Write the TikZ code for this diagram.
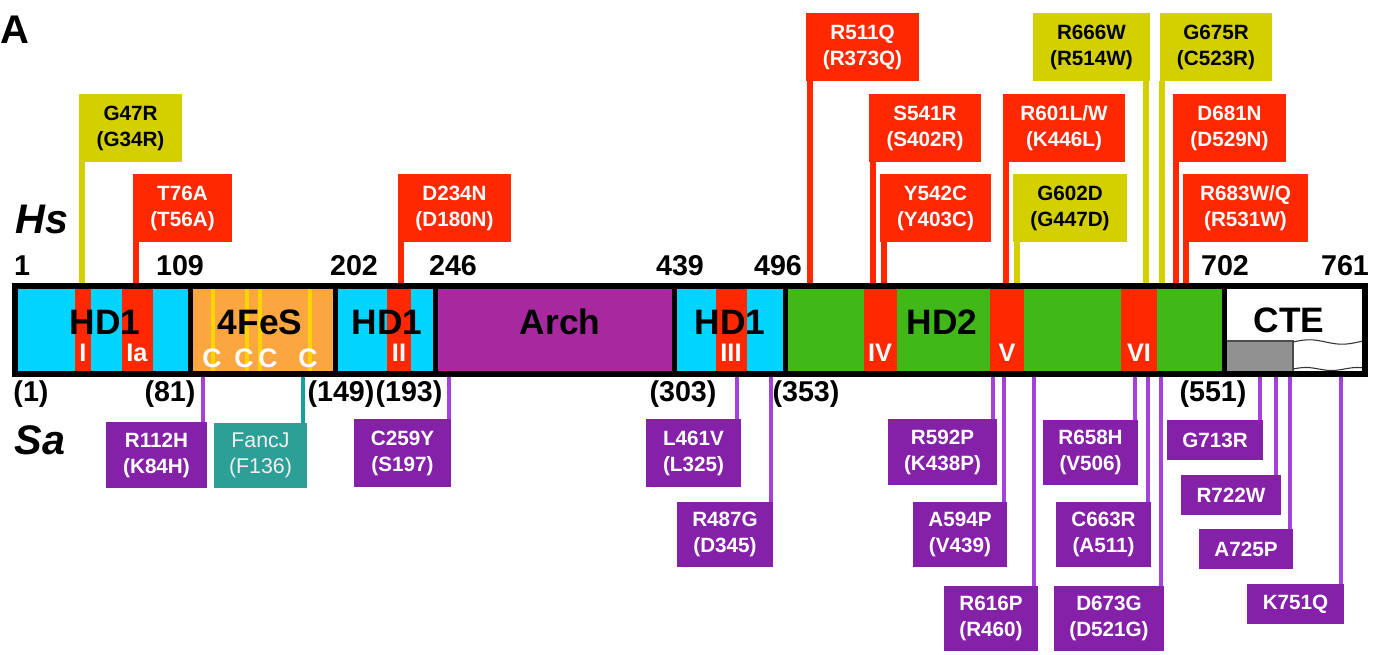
\documentclass[tikz,border=0pt]{standalone}
\usepackage{fontspec}
\setmainfont{Liberation Sans}
\definecolor{cRed}{RGB}{255,40,0}
\definecolor{cOlive}{RGB}{212,208,0}
\definecolor{cCyan}{RGB}{0,212,255}
\definecolor{cOrange}{RGB}{252,166,66}
\definecolor{cArch}{RGB}{168,40,160}
\definecolor{cGreen}{RGB}{64,184,24}
\definecolor{cPurp}{RGB}{133,33,168}
\definecolor{cPstk}{RGB}{165,65,220}
\definecolor{cTeal}{RGB}{44,160,150}
\definecolor{cTstk}{RGB}{20,160,160}
\definecolor{cGold}{RGB}{255,212,0}
\definecolor{cGray}{RGB}{145,145,145}
\begin{document}
\begin{tikzpicture}[x=0.75pt,y=-0.75pt,
  mb/.style={inner sep=0pt, outer sep=0pt, align=center, font=\fontsize{15.5}{19.5}\selectfont\bfseries},
  bx/.style n args={4}{minimum width={(#3-#1)*0.75pt}, minimum height={(#4-#2)*0.75pt},
     at={({(#1+#3)/2},{(#2+#4)/2})}},
  redbox/.style={mb, fill=cRed, text=white},
  olbox/.style={mb, fill=cOlive, text=black},
  pbox/.style={mb, fill=cPurp, text=white},
  tbox/.style={mb, fill=cTeal, text=white!94!black, font=\fontsize{16}{19.5}\selectfont},
  tstk/.style={line width=4.1pt},
  bstk/.style={line width=3pt, cPstk},
  dom/.style={font=\fontsize{26.5}{26.5}\selectfont\bfseries, inner sep=0pt},
  mot/.style={font=\fontsize{19}{19}\selectfont\bfseries, text=white, inner sep=0pt},
  num/.style={font=\fontsize{21.5}{21.5}\selectfont\bfseries, inner sep=0pt},
]
\useasboundingbox (0,0) rectangle (1373,655);

% ---- top mutation boxes ----
\node[olbox, bx={79}{94}{182}{162}] (g47) {G47R\\(G34R)};
\node[redbox, bx={133}{174}{232}{242}] (t76) {T76A\\(T56A)};
\node[redbox, bx={398}{174}{511}{242}] (d234) {D234N\\(D180N)};
\node[redbox, bx={806}{13}{919}{81}] (r511) {R511Q\\(R373Q)};
\node[redbox, bx={869}{94}{981}{162}] (s541) {S541R\\(S402R)};
\node[redbox, bx={880}{174}{991}{242}] (y542) {Y542C\\(Y403C)};
\node[redbox, bx={1003}{94}{1125}{162}] (r601) {R601L/W\\(K446L)};
\node[olbox, bx={1013}{174}{1127}{242}] (g602) {G602D\\(G447D)};
\node[olbox, bx={1033}{13}{1150}{81}] (r666) {R666W\\(R514W)};
\node[olbox, bx={1160}{13}{1272}{81}] (g675) {G675R\\(C523R)};
\node[redbox, bx={1173}{94}{1286}{162}] (d681) {D681N\\(D529N)};
\node[redbox, bx={1183}{174}{1308}{242}] (r683) {R683W/Q\\(R531W)};

\foreach \n/\x/\c in {g47/82/cOlive, t76/136/cRed, d234/401/cRed, r511/810/cRed,
  s541/873/cRed, y542/884/cRed, r601/1006/cRed, g602/1017/cOlive, r666/1146/cOlive,
  g675/1162/cOlive, d681/1176/cRed, r683/1186/cRed}{
  \coordinate (s-\n) at (\x,283);
  \draw[tstk, \c] (s-\n |- \n.south) -- (s-\n);
}

% ---- bottom mutation boxes ----
\node[pbox, bx={106}{422}{207}{488}] (r112) {R112H\\(K84H)};
\node[tbox, bx={214}{423}{307}{488}] (fancj) {FancJ\\(F136)};
\node[pbox, bx={354}{419}{451}{487}] (c259) {C259Y\\(S197)};
\node[pbox, bx={646}{419}{741}{487}] (l461) {L461V\\(L325)};
\node[pbox, bx={677}{502}{773}{567}] (r487) {R487G\\(D345)};
\node[pbox, bx={888}{419}{997}{485}] (r592) {R592P\\(K438P)};
\node[pbox, bx={913}{502}{1007}{567}] (a594) {A594P\\(V439)};
\node[pbox, bx={944}{586}{1038}{651}] (r616) {R616P\\(R460)};
\node[pbox, bx={1043}{420}{1138}{485}] (r658) {R658H\\(V506)};
\node[pbox, bx={1056}{502}{1151}{567}] (c663) {C663R\\(A511)};
\node[pbox, bx={1054}{586}{1164}{651}] (d673) {D673G\\(D521G)};
\node[pbox, bx={1167}{420}{1263}{460}] (g713) {G713R};
\node[pbox, bx={1181}{475}{1281}{515}] (r722) {R722W};
\node[pbox, bx={1199}{529}{1293}{569}] (a725) {A725P};
\node[pbox, bx={1247}{584}{1344}{624}] (k751) {K751Q};

\foreach \n/\x in {r112/203, c259/449, l461/737, r487/771, r592/993, a594/1004,
  r616/1034, r658/1135, c663/1148, d673/1161, g713/1260, r722/1276, a725/1290, k751/1341}{
  \coordinate (b-\n) at (\x,377);
  \draw[bstk] (b-\n) -- (b-\n |- \n.north);
}
\coordinate (b-fancj) at (303,377);
\draw[line width=3pt, cTstk] (b-fancj) -- (b-fancj |- fancj.north);

% ---- bar ----
\fill[cCyan] (15,286) rectangle (190.5,374);
\fill[cOrange] (190.5,286) rectangle (335.5,374);
\fill[cCyan] (335.5,286) rectangle (435.5,374);
\fill[cArch] (435.5,286) rectangle (674.5,374);
\fill[cCyan] (674.5,286) rectangle (785,374);
\fill[cGreen] (785,286) rectangle (1224.5,374);
\fill[white] (1224.5,286) rectangle (1365,374);
\foreach \a/\b in {75/91,122/153,387/411,716/747,864/897,990/1024,1121/1157}
  \fill[cRed] (\a,286) rectangle (\b,374);
\foreach \c in {213,247,260,310}
  \fill[cGold] (\c-2,286) rectangle (\c+2,374);
% CTE detail
\fill[cGray] (1227,341) rectangle (1293,372);
\draw[line width=0.9pt, black!70] (1227,341) -- (1293,341) -- (1293,372);
\draw[line width=0.8pt, black!80] plot[smooth, domain=1293:1362, samples=35] (\x,{342-2.2*sin(5.5*(\x-1293))});
\draw[line width=0.8pt, black!80] plot[smooth, domain=1293:1362, samples=35] (\x,{369-1.5*sin(7*(\x-1293))});
\foreach \d in {190.5,335.5,435.5,674.5,785,1224.5}
  \draw[line width=3.75pt] (\d,286) -- (\d,374);
\draw[line width=4.5pt] (15,286) rectangle (1365,374);

% domain labels
\node[dom] (hd1a) at (105,322) {HD1};
\node[dom] (fes) at (260,322) {4FeS};
\node[dom] (hd1b) at (387,322) {HD1};
\node[dom] (arch) at (560,322) {Arch};
\node[dom] (hd1c) at (730,322) {HD1};
\node[dom] (hd2) at (942,322) {HD2};
\node[dom] (cte) at (1289,320) {CTE};
% motif labels
\node[mot] (mI) at (83,353) {I};
\node[mot] (mIa) at (137,353) {Ia};
\node[mot] (mII) at (399,353) {II};
\node[mot] (mIII) at (731,353) {III};
\node[mot] (mIV) at (880,353) {IV};
\node[mot] (mV) at (1007,353) {V};
\node[mot] (mVI) at (1139,353) {VI};
\foreach \x [count=\i] in {212,244,268,308}
  \node[mot, font=\fontsize{20}{20}\selectfont\bfseries] (c\i) at (\x,358) {C};

% numbering
\node[num] (n1) at (22,266) {1};
\node[num] (n109) at (180,266) {109};
\node[num] (n202) at (354,266) {202};
\node[num] (n246) at (453,266) {246};
\node[num] (n439) at (680,266) {439};
\node[num] (n496) at (778,266) {496};
\node[num] (n702) at (1225,266) {702};
\node[num] (n761) at (1345,266) {761};
\node[num] (p1) at (31,394) {(1)};
\node[num] (p81) at (170,394) {(81)};
\node[num] (p149) at (341,394) {(149)};
\node[num] (p193) at (409,394) {(193)};
\node[num] (p303) at (683,394) {(303)};
\node[num] (p353) at (806,394) {(353)};
\node[num] (p551) at (1213,394) {(551)};

% species and panel
\node[font=\fontsize{31}{31}\selectfont\bfseries\itshape, inner sep=0pt] (hs) at (42,219) {Hs};
\node[font=\fontsize{31}{31}\selectfont\bfseries\itshape, inner sep=0pt] (sa) at (40,440) {Sa};
\node[font=\fontsize{30}{30}\selectfont\bfseries, inner sep=0pt] (panel) at (15,30) {A};
\end{tikzpicture}
\end{document}
